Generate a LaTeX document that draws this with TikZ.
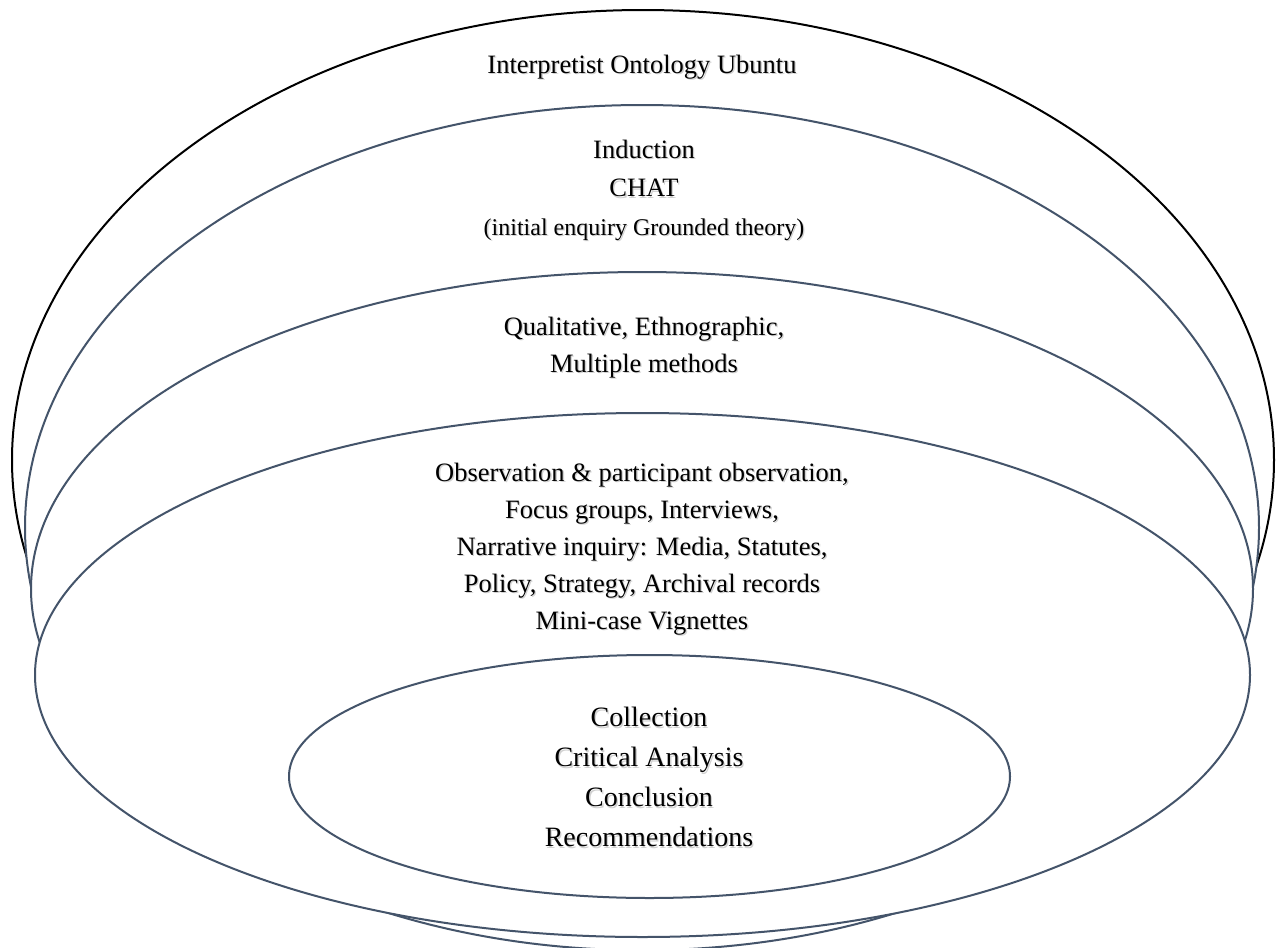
\documentclass[tikz,border=0pt]{standalone}
\usepackage{fontspec}
\setmainfont{Liberation Serif}
\definecolor{ringblue}{HTML}{44546A}
% text with a soft grey drop shadow
\newcommand\shadowed[1]{\leavevmode\rlap{\kern1.3pt\raisebox{-1.3pt}{\textcolor{black!18}{#1}}}#1}
\begin{document}
\begin{tikzpicture}[x=1pt,y=-1pt,
  ring/.style={draw=ringblue,line width=2pt,fill=white},
  ringtext/.style={align=center,inner sep=0pt,font=\fontsize{26.5}{37}\selectfont}]
\useasboundingbox (0,0) rectangle (1278,948);
\clip (0,0) rectangle (1278,948);
\fill[white] (0,0) rectangle (1278,948);

% nested rings, outermost first; each white fill hides the part of the ring behind it
\path[ring,draw=black] (643,460) ellipse [x radius=631pt, y radius=450pt];
\path[ring] (642,527.6) ellipse [x radius=617pt, y radius=422.6pt];
\path[ring] (642,588.8) ellipse [x radius=611pt, y radius=316.8pt];
\path[ring] (642.5,675) ellipse [x radius=607.5pt, y radius=262pt];
\path[ring] (649.5,776.5) ellipse [x radius=360.5pt, y radius=121.5pt];

% ring labels
\node[ringtext] (ontology) at (642,68) {\shadowed{Interpretist Ontology Ubuntu}};
\node[ringtext,font=\fontsize{26.5}{38.5}\selectfont] (approach) at (644,191)
  {\shadowed{Induction}\\\shadowed{CHAT}\\{\fontsize{24}{38.5}\selectfont\shadowed{(initial enquiry Grounded theory)}}};
\node[ringtext] (methodology) at (644,348)
  {\shadowed{Qualitative, Ethnographic,}\\\shadowed{Multiple methods}};
\node[ringtext] (methods) at (642,550)
  {\shadowed{Observation \& participant observation,}\\
   \shadowed{Focus groups, Interviews,}\\
   \shadowed{Narrative inquiry: Media, Statutes,}\\
   \shadowed{Policy, Strategy, Archival records}\\
   \shadowed{Mini-case Vignettes}};
\node[ringtext,font=\fontsize{28}{40}\selectfont] (process) at (649,778)
  {\shadowed{Collection}\\\shadowed{Critical Analysis}\\\shadowed{Conclusion}\\\shadowed{Recommendations}};
\end{tikzpicture}
\end{document}
